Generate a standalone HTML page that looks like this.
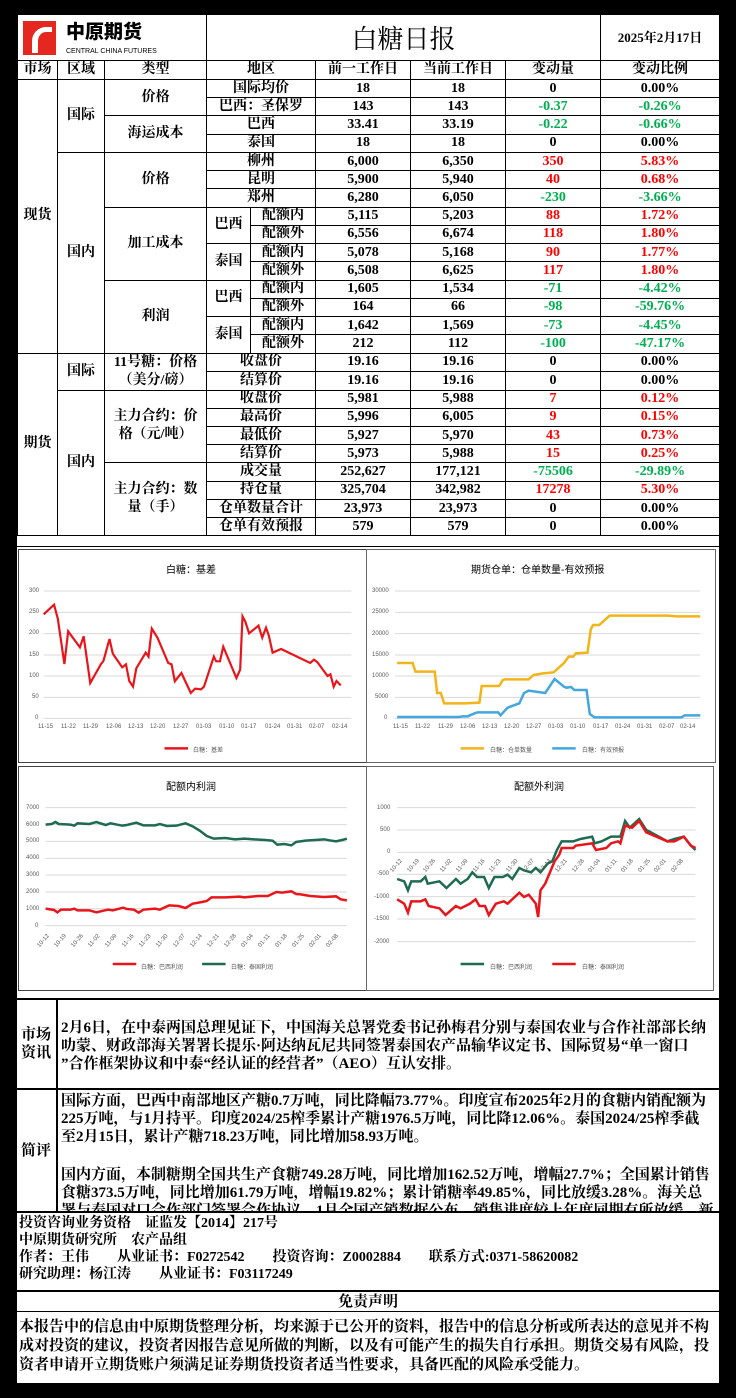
<!DOCTYPE html>
<html><head><meta charset="utf-8">
<style>
*{margin:0;padding:0;box-sizing:border-box}
body{width:736px;height:1398px;background:#000;position:relative;overflow:hidden;font-family:"Liberation Serif","Noto Serif CJK SC",serif;}
.abs{position:absolute}
.white{position:absolute;background:#fff}
table{border-collapse:collapse;table-layout:fixed;position:absolute;left:17px;top:14px;width:702px;background:#fff}
td{border:1px solid #000;text-align:center;vertical-align:middle;font-size:14px;font-weight:bold;line-height:14px;padding:0;white-space:nowrap;overflow:hidden}
tr.r td{height:18.24px}
.g{color:#00b050}.rd{color:#ff0000}
.t{font-family:"Liberation Sans","Noto Sans CJK SC",sans-serif;font-size:6px;color:#595959;position:absolute;white-space:nowrap}
.ct{font-family:"Liberation Sans","Noto Sans CJK SC",sans-serif;font-size:10px;color:#000;position:absolute;white-space:nowrap}
.txt{position:absolute;font-size:15px;font-weight:bold;line-height:18px;white-space:nowrap;color:#000}
</style></head><body>
<div class="white" style="left:17px;top:14px;width:702px;height:1369px"></div>

<table>
<colgroup><col style="width:40px"><col style="width:47px"><col style="width:102px"><col style="width:44px"><col style="width:65px"><col style="width:95px"><col style="width:95px"><col style="width:95px"><col style="width:119px"></colgroup>
<tr style="height:46px">
<td colspan="3" style="text-align:left;position:relative">
<div class="abs" style="left:5px;top:6px;width:33px;height:34px;background:#e5281f"></div>
<div class="abs" style="left:14px;top:12px;width:20px;height:26px;border-left:6px solid #fff;border-top:5px solid #fff;border-radius:14px 0 0 0"></div>
<div class="abs" style="left:48px;top:6px;font-size:19px;line-height:20px;font-family:'Noto Sans CJK SC',sans-serif;font-weight:900">中原期货</div>
<div class="abs" style="left:48px;top:30px;font-size:7px;font-family:'Liberation Sans',sans-serif;font-weight:normal">CENTRAL CHINA FUTURES</div>
</td>
<td colspan="5" style="font-size:26px;line-height:26px;font-weight:normal;font-family:'Noto Serif CJK SC',serif">白糖日报</td>
<td style="font-size:13px">2025年2月17日</td></tr>
<tr style="height:19px"><td>市场</td><td>区域</td><td>类型</td><td colspan="2">地区</td><td>前一工作日</td><td>当前工作日</td><td>变动量</td><td>变动比例</td></tr>
<tr class="r"><td rowspan="15">现货</td><td rowspan="4">国际</td><td rowspan="2">价格</td><td colspan="2">国际均价</td><td>18</td><td>18</td><td>0</td><td>0.00%</td></tr>
<tr class="r"><td colspan="2">巴西：圣保罗</td><td>143</td><td>143</td><td class="g">-0.37</td><td class="g">-0.26%</td></tr>
<tr class="r"><td rowspan="2">海运成本</td><td colspan="2">巴西</td><td>33.41</td><td>33.19</td><td class="g">-0.22</td><td class="g">-0.66%</td></tr>
<tr class="r"><td colspan="2">泰国</td><td>18</td><td>18</td><td>0</td><td>0.00%</td></tr>
<tr class="r"><td rowspan="11">国内</td><td rowspan="3">价格</td><td colspan="2">柳州</td><td>6,000</td><td>6,350</td><td class="rd">350</td><td class="rd">5.83%</td></tr>
<tr class="r"><td colspan="2">昆明</td><td>5,900</td><td>5,940</td><td class="rd">40</td><td class="rd">0.68%</td></tr>
<tr class="r"><td colspan="2">郑州</td><td>6,280</td><td>6,050</td><td class="g">-230</td><td class="g">-3.66%</td></tr>
<tr class="r"><td rowspan="4">加工成本</td><td rowspan="2">巴西</td><td>配额内</td><td>5,115</td><td>5,203</td><td class="rd">88</td><td class="rd">1.72%</td></tr>
<tr class="r"><td>配额外</td><td>6,556</td><td>6,674</td><td class="rd">118</td><td class="rd">1.80%</td></tr>
<tr class="r"><td rowspan="2">泰国</td><td>配额内</td><td>5,078</td><td>5,168</td><td class="rd">90</td><td class="rd">1.77%</td></tr>
<tr class="r"><td>配额外</td><td>6,508</td><td>6,625</td><td class="rd">117</td><td class="rd">1.80%</td></tr>
<tr class="r"><td rowspan="4">利润</td><td rowspan="2">巴西</td><td>配额内</td><td>1,605</td><td>1,534</td><td class="g">-71</td><td class="g">-4.42%</td></tr>
<tr class="r"><td>配额外</td><td>164</td><td>66</td><td class="g">-98</td><td class="g">-59.76%</td></tr>
<tr class="r"><td rowspan="2">泰国</td><td>配额内</td><td>1,642</td><td>1,569</td><td class="g">-73</td><td class="g">-4.45%</td></tr>
<tr class="r"><td>配额外</td><td>212</td><td>112</td><td class="g">-100</td><td class="g">-47.17%</td></tr>
<tr class="r"><td rowspan="10">期货</td><td rowspan="2">国际</td><td rowspan="2" style="line-height:18px">11号糖：价格<br>（美分/磅）</td><td colspan="2">收盘价</td><td>19.16</td><td>19.16</td><td>0</td><td>0.00%</td></tr>
<tr class="r"><td colspan="2">结算价</td><td>19.16</td><td>19.16</td><td>0</td><td>0.00%</td></tr>
<tr class="r"><td rowspan="8">国内</td><td rowspan="4" style="line-height:18px">主力合约：价<br>格（元/吨）</td><td colspan="2">收盘价</td><td>5,981</td><td>5,988</td><td class="rd">7</td><td class="rd">0.12%</td></tr>
<tr class="r"><td colspan="2">最高价</td><td>5,996</td><td>6,005</td><td class="rd">9</td><td class="rd">0.15%</td></tr>
<tr class="r"><td colspan="2">最低价</td><td>5,927</td><td>5,970</td><td class="rd">43</td><td class="rd">0.73%</td></tr>
<tr class="r"><td colspan="2">结算价</td><td>5,973</td><td>5,988</td><td class="rd">15</td><td class="rd">0.25%</td></tr>
<tr class="r"><td rowspan="4" style="line-height:18px">主力合约：数<br>量（手）</td><td colspan="2">成交量</td><td>252,627</td><td>177,121</td><td class="g">-75506</td><td class="g">-29.89%</td></tr>
<tr class="r"><td colspan="2">持仓量</td><td>325,704</td><td>342,982</td><td class="rd">17278</td><td class="rd">5.30%</td></tr>
<tr class="r"><td colspan="2">仓单数量合计</td><td>23,973</td><td>23,973</td><td>0</td><td>0.00%</td></tr>
<tr class="r"><td colspan="2">仓单有效预报</td><td>579</td><td>579</td><td>0</td><td>0.00%</td></tr>
</table>

<!-- chart frames -->
<div class="abs" style="left:17px;top:546px;width:702px;height:1px;background:#000"></div>
<div class="abs" style="left:18px;top:549px;width:349px;height:214px;border:1px solid #444"></div>
<div class="abs" style="left:366px;top:549px;width:350px;height:214px;border:1px solid #666"></div>
<div class="abs" style="left:18px;top:766px;width:349px;height:225px;border:1px solid #444"></div>
<div class="abs" style="left:366px;top:766px;width:348px;height:225px;border:1px solid #666"></div>

<svg class="abs" style="left:0;top:540px" width="736" height="230" viewBox="0 0 1566 690" preserveAspectRatio="none">
<g stroke="#d9d9d9" stroke-width="1" vector-effect="non-scaling-stroke">
<line x1="93" x2="748" y1="153" y2="153" vector-effect="non-scaling-stroke"/><line x1="93" x2="748" y1="217" y2="217" vector-effect="non-scaling-stroke"/><line x1="93" x2="748" y1="281" y2="281" vector-effect="non-scaling-stroke"/><line x1="93" x2="748" y1="345" y2="345" vector-effect="non-scaling-stroke"/><line x1="93" x2="748" y1="408" y2="408" vector-effect="non-scaling-stroke"/><line x1="93" x2="748" y1="472" y2="472" vector-effect="non-scaling-stroke"/><line x1="93" x2="748" y1="535" y2="535" vector-effect="non-scaling-stroke"/>
<line x1="840" x2="1490" y1="153" y2="153" vector-effect="non-scaling-stroke"/><line x1="840" x2="1490" y1="217" y2="217" vector-effect="non-scaling-stroke"/><line x1="840" x2="1490" y1="281" y2="281" vector-effect="non-scaling-stroke"/><line x1="840" x2="1490" y1="345" y2="345" vector-effect="non-scaling-stroke"/><line x1="840" x2="1490" y1="408" y2="408" vector-effect="non-scaling-stroke"/><line x1="840" x2="1490" y1="472" y2="472" vector-effect="non-scaling-stroke"/><line x1="840" x2="1490" y1="535" y2="535" vector-effect="non-scaling-stroke"/>
</g>
<polyline fill="none" stroke="#e8161b" stroke-width="2.2" vector-effect="non-scaling-stroke" points="93,223 115,194 123,236 137,372 145,274 170,322 178,289 192,429 215,372 220,363 233,297 240,341 260,382 268,373 275,423 283,440 290,385 310,338 316,350 323,266 335,293 358,369 365,373 372,424 386,399 406,459 415,446 428,448 434,440 455,350 460,364 468,364 475,320 503,414 511,389 516,229 522,245 530,280 550,257 558,293 566,263 572,287 580,338 598,327 660,369 668,359 675,366 697,408 703,403 710,440 716,423 725,436"/>
<polyline fill="none" stroke="#f2b418" stroke-width="2.5" vector-effect="non-scaling-stroke" points="845,369 878,369 884,395 925,395 930,459 938,459 945,490 990,490 1020,488 1025,438 1062,438 1070,420 1075,418 1125,418 1135,405 1155,400 1178,397 1200,369 1210,350 1220,350 1225,340 1250,338 1257,268 1262,255 1275,255 1297,227 1420,227 1440,229 1490,229"/>
<polyline fill="none" stroke="#44a6dc" stroke-width="2.5" vector-effect="non-scaling-stroke" points="845,531 975,531 985,529 995,529 1010,520 1016,517 1060,517 1065,526 1080,503 1105,490 1115,459 1125,452 1160,459 1180,417 1200,440 1205,443 1215,441 1222,450 1248,450 1255,522 1265,532 1450,532 1457,526 1490,526"/>
<line x1="350" x2="400" y1="625" y2="625" stroke="#e8161b" stroke-width="2.5" vector-effect="non-scaling-stroke"/>
<line x1="980" x2="1030" y1="625" y2="625" stroke="#f2b418" stroke-width="2.5" vector-effect="non-scaling-stroke"/>
<line x1="1175" x2="1225" y1="625" y2="625" stroke="#44a6dc" stroke-width="2.5" vector-effect="non-scaling-stroke"/>
</svg>

<svg class="abs" style="left:0;top:760px" width="736" height="240" viewBox="0 0 1566 720" preserveAspectRatio="none">
<g stroke="#d9d9d9">
<line x1="97" x2="738" y1="143" y2="143" vector-effect="non-scaling-stroke"/><line x1="97" x2="738" y1="194" y2="194" vector-effect="non-scaling-stroke"/><line x1="97" x2="738" y1="244" y2="244" vector-effect="non-scaling-stroke"/><line x1="97" x2="738" y1="295" y2="295" vector-effect="non-scaling-stroke"/><line x1="97" x2="738" y1="345" y2="345" vector-effect="non-scaling-stroke"/><line x1="97" x2="738" y1="396" y2="396" vector-effect="non-scaling-stroke"/><line x1="97" x2="738" y1="446" y2="446" vector-effect="non-scaling-stroke"/><line x1="97" x2="738" y1="497" y2="497" vector-effect="non-scaling-stroke"/>
<line x1="845" x2="1480" y1="143" y2="143" vector-effect="non-scaling-stroke"/><line x1="845" x2="1480" y1="210" y2="210" vector-effect="non-scaling-stroke"/><line x1="845" x2="1480" y1="277" y2="277" vector-effect="non-scaling-stroke"/><line x1="845" x2="1480" y1="343" y2="343" vector-effect="non-scaling-stroke"/><line x1="845" x2="1480" y1="410" y2="410" vector-effect="non-scaling-stroke"/><line x1="845" x2="1480" y1="477" y2="477" vector-effect="non-scaling-stroke"/><line x1="845" x2="1480" y1="545" y2="545" vector-effect="non-scaling-stroke"/>
</g>
<polyline fill="none" stroke="#1e6b52" stroke-width="2.5" vector-effect="non-scaling-stroke" points="97,194 110,192 118,186 125,192 150,194 158,197 165,190 190,192 205,186 225,195 235,190 260,197 270,195 290,188 305,196 330,196 340,192 355,198 375,197 395,190 410,199 425,212 440,228 455,236 480,234 500,238 520,236 540,238 565,240 580,242 590,254 605,252 620,256 630,246 650,242 690,238 705,242 715,244 728,240 738,236"/>
<polyline fill="none" stroke="#e8161b" stroke-width="2.5" vector-effect="non-scaling-stroke" points="97,446 115,450 122,457 130,449 150,449 158,446 165,451 190,451 205,457 220,452 230,449 240,451 262,443 270,447 285,449 295,458 305,449 330,446 340,449 360,436 380,438 395,444 410,431 430,426 440,423 450,412 480,412 510,410 520,412 535,410 550,408 570,408 588,396 600,398 620,394 630,402 640,403 660,408 690,411 715,409 725,418 738,421"/>
<polyline fill="none" stroke="#1e6b52" stroke-width="2.5" vector-effect="non-scaling-stroke" points="845,357 860,364 868,391 875,364 895,364 905,351 910,371 935,364 950,384 970,357 980,371 995,357 1005,337 1015,351 1030,351 1040,384 1052,351 1070,351 1080,344 1090,357 1105,324 1115,331 1130,337 1140,324 1150,337 1165,311 1175,304 1185,270 1195,244 1220,244 1235,237 1260,230 1265,250 1280,244 1300,230 1320,230 1330,183 1340,203 1360,177 1375,210 1385,217 1420,244 1435,237 1455,230 1470,257 1480,270"/>
<polyline fill="none" stroke="#e8161b" stroke-width="2.5" vector-effect="non-scaling-stroke" points="845,418 860,431 868,458 875,424 895,424 905,418 912,438 935,445 948,465 970,438 980,445 1000,431 1012,418 1020,438 1032,438 1040,465 1055,431 1072,424 1080,431 1105,398 1115,411 1125,404 1140,431 1145,471 1150,391 1160,371 1180,304 1190,284 1195,264 1220,264 1225,257 1260,250 1268,270 1290,264 1300,250 1315,244 1320,250 1330,197 1345,203 1360,183 1375,217 1385,223 1420,244 1435,244 1455,230 1470,257 1480,264"/>
<line x1="240" x2="290" y1="612" y2="612" stroke="#e8161b" stroke-width="2.5" vector-effect="non-scaling-stroke"/>
<line x1="430" x2="480" y1="612" y2="612" stroke="#1e6b52" stroke-width="2.5" vector-effect="non-scaling-stroke"/>
<line x1="980" x2="1030" y1="612" y2="612" stroke="#1e6b52" stroke-width="2.5" vector-effect="non-scaling-stroke"/>
<line x1="1175" x2="1225" y1="612" y2="612" stroke="#e8161b" stroke-width="2.5" vector-effect="non-scaling-stroke"/>
</svg>

<!-- chart texts -->
<div class="ct" style="left:166px;top:561px">白糖：基差</div>
<div class="ct" style="left:471px;top:561px">期货仓单：仓单数量-有效预报</div>
<div class="ct" style="left:166px;top:778px">配额内利润</div>
<div class="ct" style="left:514px;top:778px">配额外利润</div>

<div class="t" style="left:29px;top:588px">300</div><div class="t" style="left:29px;top:609px">250</div><div class="t" style="left:29px;top:630px">200</div><div class="t" style="left:29px;top:652px">150</div><div class="t" style="left:29px;top:673px">100</div><div class="t" style="left:32px;top:694px">50</div><div class="t" style="left:35px;top:715px">0</div>
<div class="t" style="left:38px;top:724px">11-15</div><div class="t" style="left:61px;top:724px">11-22</div><div class="t" style="left:83px;top:724px">11-29</div><div class="t" style="left:106px;top:724px">12-06</div><div class="t" style="left:128px;top:724px">12-13</div><div class="t" style="left:150px;top:724px">12-20</div><div class="t" style="left:173px;top:724px">12-27</div><div class="t" style="left:196px;top:724px">01-03</div><div class="t" style="left:219px;top:724px">01-10</div><div class="t" style="left:241px;top:724px">01-17</div><div class="t" style="left:265px;top:724px">01-24</div><div class="t" style="left:287px;top:724px">01-31</div><div class="t" style="left:309px;top:724px">02-07</div><div class="t" style="left:332px;top:724px">02-14</div>
<div class="t" style="left:193px;top:745px">白糖：基差</div>

<div class="t" style="left:372px;top:588px">30000</div><div class="t" style="left:372px;top:609px">25000</div><div class="t" style="left:372px;top:631px">20000</div><div class="t" style="left:372px;top:652px">15000</div><div class="t" style="left:372px;top:673px">10000</div><div class="t" style="left:375px;top:694px">5000</div><div class="t" style="left:384px;top:715px">0</div>
<div class="t" style="left:393px;top:724px">11-15</div><div class="t" style="left:415px;top:724px">11-22</div><div class="t" style="left:438px;top:724px">11-29</div><div class="t" style="left:460px;top:724px">12-06</div><div class="t" style="left:482px;top:724px">12-13</div><div class="t" style="left:504px;top:724px">12-20</div><div class="t" style="left:526px;top:724px">12-27</div><div class="t" style="left:548px;top:724px">01-03</div><div class="t" style="left:570px;top:724px">01-10</div><div class="t" style="left:593px;top:724px">01-17</div><div class="t" style="left:615px;top:724px">01-24</div><div class="t" style="left:637px;top:724px">01-31</div><div class="t" style="left:659px;top:724px">02-07</div><div class="t" style="left:680px;top:724px">02-14</div>
<div class="t" style="left:490px;top:745px">白糖：仓单数量</div><div class="t" style="left:582px;top:745px">白糖：有效预报</div>

<div class="t" style="left:26px;top:805px">7000</div><div class="t" style="left:26px;top:822px">6000</div><div class="t" style="left:26px;top:838px">5000</div><div class="t" style="left:26px;top:855px">4000</div><div class="t" style="left:26px;top:872px">3000</div><div class="t" style="left:26px;top:889px">2000</div><div class="t" style="left:26px;top:906px">1000</div><div class="t" style="left:35px;top:923px">0</div>
<div style="position:absolute;left:0;top:0">
<div class="t" style="left:36px;top:938px;transform:rotate(-50deg)">10-12</div><div class="t" style="left:53px;top:938px;transform:rotate(-50deg)">10-19</div><div class="t" style="left:70px;top:938px;transform:rotate(-50deg)">10-26</div><div class="t" style="left:87px;top:938px;transform:rotate(-50deg)">11-02</div><div class="t" style="left:104px;top:938px;transform:rotate(-50deg)">11-09</div><div class="t" style="left:121px;top:938px;transform:rotate(-50deg)">11-16</div><div class="t" style="left:138px;top:938px;transform:rotate(-50deg)">11-23</div><div class="t" style="left:155px;top:938px;transform:rotate(-50deg)">11-30</div><div class="t" style="left:172px;top:938px;transform:rotate(-50deg)">12-07</div><div class="t" style="left:189px;top:938px;transform:rotate(-50deg)">12-14</div><div class="t" style="left:206px;top:938px;transform:rotate(-50deg)">12-21</div><div class="t" style="left:223px;top:938px;transform:rotate(-50deg)">12-28</div><div class="t" style="left:240px;top:938px;transform:rotate(-50deg)">01-04</div><div class="t" style="left:257px;top:938px;transform:rotate(-50deg)">01-11</div><div class="t" style="left:274px;top:938px;transform:rotate(-50deg)">01-18</div><div class="t" style="left:291px;top:938px;transform:rotate(-50deg)">01-25</div><div class="t" style="left:308px;top:938px;transform:rotate(-50deg)">02-01</div><div class="t" style="left:325px;top:938px;transform:rotate(-50deg)">02-08</div>
</div>
<div class="t" style="left:141px;top:962px">白糖：巴西利润</div><div class="t" style="left:231px;top:962px">白糖：泰国利润</div>

<div class="t" style="left:377px;top:805px">1000</div><div class="t" style="left:380px;top:827px">500</div><div class="t" style="left:387px;top:849px">0</div><div class="t" style="left:377px;top:871px">-500</div><div class="t" style="left:374px;top:894px">-1000</div><div class="t" style="left:374px;top:916px">-1500</div><div class="t" style="left:374px;top:939px">-2000</div>
<div class="t" style="left:389px;top:863px;transform:rotate(-50deg)">10-12</div><div class="t" style="left:406px;top:863px;transform:rotate(-50deg)">10-19</div><div class="t" style="left:422px;top:863px;transform:rotate(-50deg)">10-26</div><div class="t" style="left:439px;top:863px;transform:rotate(-50deg)">11-02</div><div class="t" style="left:455px;top:863px;transform:rotate(-50deg)">11-09</div><div class="t" style="left:472px;top:863px;transform:rotate(-50deg)">11-16</div><div class="t" style="left:488px;top:863px;transform:rotate(-50deg)">11-23</div><div class="t" style="left:505px;top:863px;transform:rotate(-50deg)">11-30</div><div class="t" style="left:521px;top:863px;transform:rotate(-50deg)">12-07</div><div class="t" style="left:538px;top:863px;transform:rotate(-50deg)">12-14</div><div class="t" style="left:554px;top:863px;transform:rotate(-50deg)">12-21</div><div class="t" style="left:571px;top:863px;transform:rotate(-50deg)">12-28</div><div class="t" style="left:587px;top:863px;transform:rotate(-50deg)">01-04</div><div class="t" style="left:604px;top:863px;transform:rotate(-50deg)">01-11</div><div class="t" style="left:620px;top:863px;transform:rotate(-50deg)">01-18</div><div class="t" style="left:637px;top:863px;transform:rotate(-50deg)">01-25</div><div class="t" style="left:653px;top:863px;transform:rotate(-50deg)">02-01</div><div class="t" style="left:670px;top:863px;transform:rotate(-50deg)">02-08</div>
<div class="t" style="left:490px;top:962px">白糖：巴西利润</div><div class="t" style="left:582px;top:962px">白糖：泰国利润</div>

<!-- text sections -->
<div class="abs" style="left:17px;top:998px;width:702px;height:2px;background:#000"></div>
<div class="abs" style="left:56px;top:998px;width:2px;height:214px;background:#000"></div>
<div class="abs" style="left:17px;top:1088px;width:702px;height:2px;background:#000"></div>
<div class="txt" style="left:21px;top:1026px;font-size:15px">市场<br>资讯</div>
<div class="txt" style="left:61px;top:1019px">2月6日，在中泰两国总理见证下，中国海关总署党委书记孙梅君分别与泰国农业与合作社部部长纳<br>叻蒙、财政部海关署署长提乐·阿达纳瓦尼共同签署泰国农产品输华议定书、国际贸易“单一窗口<br>”合作框架协议和中泰“经认证的经营者”（AEO）互认安排。</div>
<div class="abs" style="left:58px;top:1090px;width:661px;height:122px;overflow:hidden">
<div class="txt" style="left:3px;top:2px">国际方面，巴西中南部地区产糖0.7万吨，同比降幅73.77%。印度宣布2025年2月的食糖内销配额为<br>225万吨，与1月持平。印度2024/25榨季累计产糖1976.5万吨，同比降12.06%。泰国2024/25榨季截<br>至2月15日，累计产糖718.23万吨，同比增加58.93万吨。</div>
<div class="txt" style="left:3px;top:76px">国内方面，本制糖期全国共生产食糖749.28万吨，同比增加162.52万吨，增幅27.7%；全国累计销售<br>食糖373.5万吨，同比增加61.79万吨，增幅19.82%；累计销糖率49.85%，同比放缓3.28%。海关总<br>署与泰国对口合作部门签署合作协议。1月全国产销数据公布，销售进度较上年度同期有所放缓。新</div>
</div>
<div class="txt" style="left:21px;top:1142px">简评</div>
<div class="abs" style="left:17px;top:1211px;width:702px;height:2px;background:#000"></div>
<div class="txt" style="left:19px;top:1215px;font-size:14px;line-height:17px">投资咨询业务资格　证监发【2014】217号<br>中原期货研究所　农产品组<br>作者：王伟　　从业证书：F0272542　　投资咨询：Z0002884　　联系方式:0371-58620082<br>研究助理：杨江涛　　从业证书：F03117249</div>
<div class="abs" style="left:17px;top:1290px;width:702px;height:2px;background:#000"></div>
<div class="txt" style="left:338px;top:1293px">免责声明</div>
<div class="abs" style="left:17px;top:1311px;width:702px;height:1px;background:#000"></div>
<div class="txt" style="left:19px;top:1318px;line-height:19px">本报告中的信息由中原期货整理分析，均来源于已公开的资料，报告中的信息分析或所表达的意见并不构<br>成对投资的建议，投资者因报告意见所做的判断，以及有可能产生的损失自行承担。期货交易有风险，投<br>资者申请开立期货账户须满足证券期货投资者适当性要求，具备匹配的风险承受能力。</div>
</body></html>
